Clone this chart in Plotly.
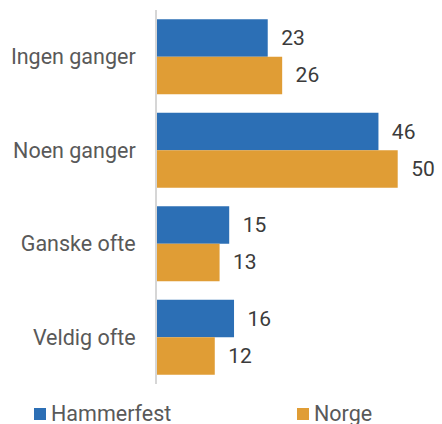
import plotly.graph_objects as go

categories = ["Ingen ganger", "Noen ganger", "Ganske ofte", "Veldig ofte"]
hammerfest = [23, 46, 15, 16]
norge = [26, 50, 13, 12]
series_names = ["Hammerfest", "Norge"]
colors = ["#2C6FB5", "#E09D35"]

FONT = "Roboto"
LABEL_GRAY = "#595959"
VALUE_GRAY = "#3b3b3b"

fig = go.Figure()
for name, vals, col in zip(series_names, [hammerfest, norge], colors):
    fig.add_trace(go.Bar(
        y=categories,
        x=vals,
        name=name,
        orientation="h",
        marker=dict(color=col, line=dict(width=0)),
        text=vals,
        texttemplate="\u00a0\u00a0%{x}",
        textposition="outside",
        textfont=dict(family=FONT, size=21, color=VALUE_GRAY),
        cliponaxis=False,
        showlegend=False,
    ))

fig.update_layout(
    width=442,
    height=424,
    margin=dict(l=157, r=0, t=10, b=40),
    barmode="group",
    bargap=0.2,
    bargroupgap=0,
    plot_bgcolor="white",
    paper_bgcolor="white",
    font=dict(family=FONT, size=21.5, color=LABEL_GRAY),
    xaxis=dict(range=[0, 59.2], visible=False, fixedrange=True),
    yaxis=dict(
        autorange="reversed",
        showline=True,
        linecolor="#d6d6d6",
        linewidth=2,
        ticks="",
        ticklabelstandoff=15,
        tickfont=dict(family=FONT, size=21.5, color=LABEL_GRAY),
        showgrid=False,
        zeroline=False,
    ),
)

# Legend drawn as colored squares with labels along the bottom
legend_x = [34, 297]
for name, col, lx in zip(series_names, colors, legend_x):
    fig.add_shape(
        type="rect", xref="paper", yref="paper",
        x0=(lx - 157) / 285, x1=(lx + 12 - 157) / 285,
        y0=(384 - 420) / 374, y1=(384 - 408) / 374,
        fillcolor=col, line=dict(width=0),
    )
    fig.add_annotation(
        xref="paper", yref="paper",
        x=(lx + 15 - 157) / 285, y=(384 - 413) / 374,
        xanchor="left", yanchor="middle",
        text=name, showarrow=False,
        font=dict(family=FONT, size=21.5, color=LABEL_GRAY),
    )

fig.write_html("out.html")
